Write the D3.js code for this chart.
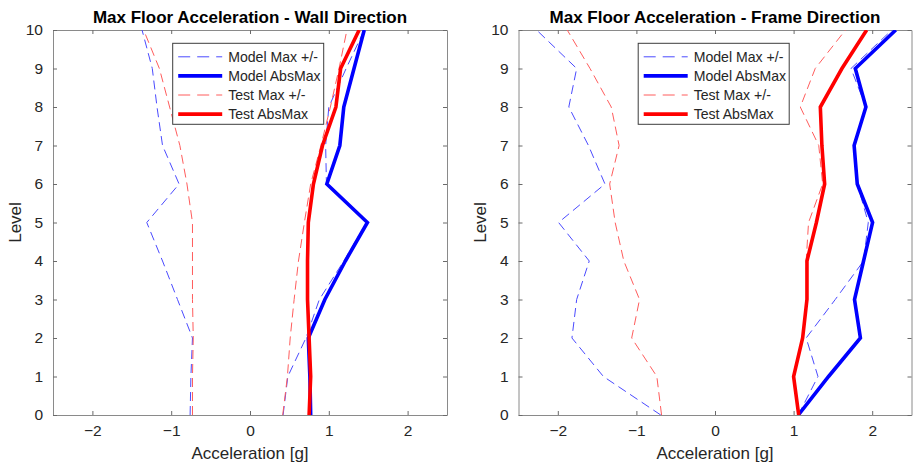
<!DOCTYPE html>
<html>
<head>
<meta charset="utf-8">
<script src="https://cdn.jsdelivr.net/npm/d3@7"></script>
<style>
  html, body { margin: 0; padding: 0; background: #fff; }
  svg { display: block; font-family: "Liberation Sans", Arial, Helvetica, sans-serif; }
</style>
</head>
<body>
<svg id="chart" width="916" height="466"></svg>
<script>
// Floor levels and axis ticks
const levels = [0, 1, 2, 3, 4, 5, 6, 7, 8, 9, 10];
const xTicks = [-2, -1, 0, 1, 2];
const yTicks = [0, 1, 2, 3, 4, 5, 6, 7, 8, 9, 10];

// Wall direction peak floor accelerations [g], level 0..10
const wallModelNeg = [-0.76, -0.75, -0.73, -0.92, -1.11, -1.31, -0.90, -1.11, -1.18, -1.24, -1.37];
const wallModelPos = [0.42, 0.48, 0.71, 0.88, 1.19, 1.48, 0.97, 0.96, 1.00, 1.22, 1.45];
const wallModelAbs = [0.77, 0.76, 0.74, 0.95, 1.21, 1.49, 0.975, 1.14, 1.19, 1.32, 1.45];
const wallTestNeg = [-0.73, -0.73, -0.72, -0.73, -0.73, -0.73, -0.80, -0.89, -1.02, -1.15, -1.35];
const wallTestPos = [0.415, 0.475, 0.51, 0.56, 0.615, 0.69, 0.77, 0.90, 1.02, 1.13, 1.23];
const wallTestAbs = [0.75, 0.77, 0.75, 0.73, 0.73, 0.74, 0.805, 0.92, 1.09, 1.15, 1.385];

// Frame direction peak floor accelerations [g], level 0..10
const frameModelNeg = [-0.69, -1.42, -1.82, -1.76, -1.60, -1.99, -1.40, -1.61, -1.86, -1.76, -2.27];
const frameModelPos = [1.06, 1.31, 1.16, 1.53, 1.89, 1.95, 1.81, 1.77, 1.92, 1.73, 2.25];
const frameModelAbs = [1.06, 1.445, 1.85, 1.775, 1.89, 2.005, 1.81, 1.77, 1.92, 1.785, 2.30];
const frameTestNeg = [-0.68, -0.74, -1.06, -0.96, -1.16, -1.27, -1.34, -1.22, -1.32, -1.59, -1.88];
const frameTestPos = [1.065, 1.00, 1.115, 1.17, 1.16, 1.19, 1.37, 1.32, 1.085, 1.275, 1.66];
const frameTestAbs = [1.065, 1.00, 1.115, 1.17, 1.17, 1.29, 1.395, 1.36, 1.34, 1.615, 1.93];

const legendLabels = ["Model Max +/-", "Model AbsMax", "Test Max +/-", "Test AbsMax"];

const styles = {
  modelDash: { stroke: "#4a4aff", width: 1, dash: "9,5" },
  modelAbs:  { stroke: "#0000ff", width: 3.6, dash: null },
  testDash:  { stroke: "#ff5c5c", width: 1, dash: "9,5" },
  testAbs:   { stroke: "#ff0000", width: 3.6, dash: null }
};
const legendStyles = [styles.modelDash, styles.modelAbs, styles.testDash, styles.testAbs];

const svg = d3.select("#chart");
const plotTop = 30, plotBottom = 415;

const panels = [
  { title: "Max Floor Acceleration - Wall Direction", x0: 53, x1: 447,
    modelNeg: wallModelNeg, modelPos: wallModelPos, modelAbs: wallModelAbs,
    testNeg: wallTestNeg, testPos: wallTestPos, testAbs: wallTestAbs, ylabX: 15 },
  { title: "Max Floor Acceleration - Frame Direction", x0: 518.5, x1: 911.5,
    modelNeg: frameModelNeg, modelPos: frameModelPos, modelAbs: frameModelAbs,
    testNeg: frameTestNeg, testPos: frameTestPos, testAbs: frameTestAbs, ylabX: 480 }
];

panels.forEach((p, i) => {
  const x = d3.scaleLinear().domain([-2.5, 2.5]).range([p.x0, p.x1]);
  const y = d3.scaleLinear().domain([0, 10]).range([plotBottom, plotTop]);
  const g = svg.append("g");

  const clipId = "clip" + i;
  svg.append("clipPath").attr("id", clipId)
    .append("rect").attr("x", p.x0).attr("y", plotTop)
    .attr("width", p.x1 - p.x0).attr("height", plotBottom - plotTop);

  // Axes with inward ticks on all four sides
  const tickColor = "#262626";
  const axes = [
    g.append("g").attr("transform", `translate(0,${plotBottom})`)
      .call(d3.axisBottom(x).tickValues(xTicks).tickSizeInner(-4).tickSizeOuter(0).tickPadding(10).tickFormat(d3.format("d"))),
    g.append("g").attr("transform", `translate(0,${plotTop})`)
      .call(d3.axisTop(x).tickValues(xTicks).tickSizeInner(-4).tickSizeOuter(0).tickFormat("")),
    g.append("g").attr("transform", `translate(${p.x0},0)`)
      .call(d3.axisLeft(y).tickValues(yTicks).tickSizeInner(-4).tickSizeOuter(0).tickPadding(10).tickFormat(d3.format("d"))),
    g.append("g").attr("transform", `translate(${p.x1},0)`)
      .call(d3.axisRight(y).tickValues(yTicks).tickSizeInner(-4).tickSizeOuter(0).tickFormat(""))
  ];
  axes.forEach(a => {
    a.select(".domain").attr("stroke", "#8a8a8a").attr("stroke-width", 1);
    a.selectAll(".tick line").attr("stroke", "#6a6a6a").attr("stroke-width", 1);
    a.selectAll(".tick text").attr("fill", tickColor).style("font-size", "15.5px")
      .style("font-family", "'Liberation Sans', Arial, sans-serif");
  });

  // Data lines
  const line = d3.line().x(d => x(d[0])).y(d => y(d[1]));
  const series = [
    [p.modelNeg, styles.modelDash], [p.modelPos, styles.modelDash],
    [p.modelAbs, styles.modelAbs],
    [p.testNeg, styles.testDash], [p.testPos, styles.testDash],
    [p.testAbs, styles.testAbs]
  ];
  const lines = g.append("g").attr("clip-path", `url(#${clipId})`);
  series.forEach(([vals, st]) => {
    lines.append("path")
      .datum(vals.map((v, k) => [v, levels[k]]))
      .attr("d", line)
      .attr("fill", "none")
      .attr("stroke", st.stroke)
      .attr("stroke-width", st.width)
      .attr("stroke-linejoin", "miter")
      .attr("stroke-dasharray", st.dash);
  });

  // Title and axis labels
  const cx = (p.x0 + p.x1) / 2;
  g.append("text").attr("x", cx).attr("y", 23).attr("text-anchor", "middle")
    .style("font-size", "17px").style("font-weight", "bold").attr("fill", "#000")
    .text(p.title);
  g.append("text").attr("x", cx).attr("y", 459).attr("text-anchor", "middle")
    .style("font-size", "17px").attr("fill", tickColor)
    .text("Acceleration [g]");
  g.append("text")
    .attr("transform", `translate(${p.ylabX + 6},${(plotTop + plotBottom) / 2}) rotate(-90)`)
    .attr("text-anchor", "middle")
    .style("font-size", "17px").attr("fill", tickColor)
    .text("Level");

  // Legend
  const lx = p.x0 + 119.7, ly = 43.3, lw = 151, lh = 81;
  const leg = g.append("g");
  leg.append("rect").attr("x", lx).attr("y", ly).attr("width", lw).attr("height", lh)
    .attr("fill", "#fff").attr("stroke", "#3c3c3c").attr("stroke-width", 1);
  legendLabels.forEach((lab, k) => {
    const ry = ly + 13.5 + k * 19.1;
    const st = legendStyles[k];
    leg.append("line").attr("x1", lx + 5.5).attr("x2", lx + 49.5)
      .attr("y1", ry).attr("y2", ry)
      .attr("stroke", st.stroke).attr("stroke-width", st.width)
      .attr("stroke-dasharray", st.dash ? "12,7" : null);
    leg.append("text").attr("x", lx + 55.5).attr("y", ry + 5)
      .style("font-size", "14.1px").attr("fill", tickColor).text(lab);
  });
});
</script>
</body>
</html>
